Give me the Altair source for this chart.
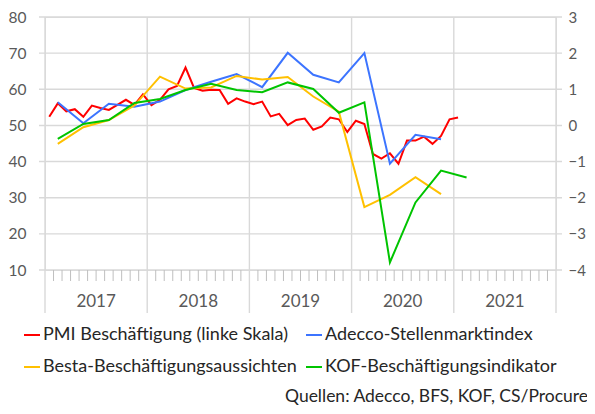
import altair as alt
import pandas as pd

# ---------------- data ----------------
series_names = ["PMI Beschäftigung (linke Skala)", "Adecco-Stellenmarktindex",
                "Besta-Beschäftigungsaussichten", "KOF-Beschäftigungsindikator"]
series_colors = ["#ff0000", "#3c74ff", "#ffc000", "#00c400"]

# monthly PMI, Jan 2017 .. Jan 2021 (left scale)
pmi = [52.4, 56.1, 53.9, 54.5, 52.4, 55.5, 54.8, 54.3, 55.7, 57.1, 55.7, 58.6,
       55.6, 57.1, 60.0, 60.9, 66.0, 60.4, 59.6, 59.9, 59.8, 56.0, 57.5, 56.6,
       55.9, 56.6, 52.5, 53.2, 50.1, 51.5, 51.9, 48.8, 49.7, 52.2, 51.7, 48.2,
       51.3, 50.4, 42.1, 40.8, 42.3, 39.4, 45.8, 45.8, 46.9, 44.9, 47.1, 51.7,
       52.2]

# quarterly indicators, Q1 2017 onwards (right scale)
adecco = [0.64, 0.06, 0.60, 0.52, 0.66, 0.98, 1.21, 1.42, 1.06, 2.01, 1.40, 1.19,
          2.00, -1.06, -0.26, -0.38]
besta = [-0.51, -0.05, 0.15, 0.55, 1.35, 1.02, 1.05, 1.37, 1.27, 1.34, 0.80, 0.38,
         -2.26, -1.92, -1.43, -1.90]
kof = [-0.37, 0.04, 0.15, 0.62, 0.73, 0.98, 1.15, 0.98, 0.92, 1.19, 1.01, 0.35,
       0.64, -3.79, -2.13, -1.25, -1.44]

years = ["2017", "2018", "2019", "2020", "2021"]
left_ticks = [10, 20, 30, 40, 50, 60, 70, 80]
right_ticks = [-4, -3, -2, -1, 0, 1, 2, 3]
source_text = "Quellen: Adecco, BFS, KOF, CS/Procure"

# legend is filled column by column: PMI, Besta | Adecco, KOF
legend_order = [0, 2, 1, 3]

# ---------------- tables ----------------
pmi_df = pd.DataFrame({"m": [i + 0.5 for i in range(len(pmi))], "v": pmi,
                       "series": series_names[0]})
rows = []
for name, vals in [(series_names[1], adecco), (series_names[2], besta), (series_names[3], kof)]:
    for q, v in enumerate(vals):
        rows.append({"m": 3 * q + 1.5, "v": v, "series": name})
q_df = pd.DataFrame(rows)
grid_df = pd.DataFrame({"v": left_ticks})
year_df = pd.DataFrame({"m": [12 * k for k in range(len(years) + 1)]})
minor_df = pd.DataFrame({"m": [m for m in range(1, 60) if m % 12 != 0]})
label_df = pd.DataFrame({"m": [12 * k + 6 for k in range(len(years))], "t": years})
src_df = pd.DataFrame({"t": [source_text]})

W, H = 511, 253
FONT = "Lato"
xs = alt.Scale(domain=[0, 60], nice=False, zero=False)
X = lambda: alt.X("m:Q", scale=xs, axis=None)
yl_scale = alt.Scale(domain=[10, 80], nice=False, zero=False)
yr_scale = alt.Scale(domain=[-4, 3], nice=False, zero=False)
axis_left = alt.Axis(orient="left", values=left_ticks, grid=False, ticks=False, tickSize=0,
                     domain=False, labelPadding=19, labelFontSize=15.5, labelFont=FONT,
                     labelColor="#595959", title=None)
axis_right = alt.Axis(orient="right", values=right_ticks, grid=False, ticks=False, tickSize=0,
                      domain=False, labelPadding=12, labelFontSize=15, labelFont=FONT,
                      labelColor="#595959", title=None, labelAlign="left")
color_scale = alt.Scale(domain=[series_names[i] for i in legend_order],
                        range=[series_colors[i] for i in legend_order])
legend = alt.Legend(orient="none", legendX=-22, legendY=309, columns=2, title=None,
                    symbolType="stroke", symbolSize=256, symbolStrokeWidth=2,
                    labelFontSize=18, labelFont=FONT, labelColor="#262626",
                    labelOffset=2, columnPadding=5, rowPadding=14, padding=0,
                    labelLimit=500)

hgrid = alt.Chart(grid_df).mark_rule(color="#d9d9d9", strokeWidth=1.4).encode(
    x=alt.value(-6), x2=alt.value(W + 6),
    y=alt.Y("v:Q", scale=yl_scale, axis=axis_left))
vgrid = alt.Chart(year_df).mark_rule(color="#d9d9d9", strokeWidth=1.4).encode(
    x=X(), y=alt.value(0), y2=alt.value(296))
minor = alt.Chart(minor_df).mark_rule(color="#bfbfbf", strokeWidth=1).encode(
    x=X(), y=alt.value(H), y2=alt.value(H + 11))
ylabels = alt.Chart(label_df).mark_text(fontSize=17, font=FONT, color="#595959").encode(
    x=X(), y=alt.value(285), text="t:N")
pmi_line = alt.Chart(pmi_df).mark_line(strokeWidth=2).encode(
    x=X(), y=alt.Y("v:Q", scale=yl_scale, axis=axis_left),
    color=alt.Color("series:N", scale=color_scale, legend=legend))
src = alt.Chart(src_df).mark_text(fontSize=17.5, font=FONT, color="#262626", align="left").encode(
    x=alt.value(240), y=alt.value(380), text="t:N")

left = alt.layer(hgrid, vgrid, minor, ylabels, pmi_line, src)
right = alt.Chart(q_df).mark_line(strokeWidth=2).encode(
    x=X(), y=alt.Y("v:Q", scale=yr_scale, axis=axis_right),
    color=alt.Color("series:N", scale=color_scale, legend=legend),
    order=alt.Order("m:Q"))

chart = alt.layer(left, right).resolve_scale(y="independent").properties(
    width=W, height=H,
    autosize=alt.AutoSizeParams(type="none"),
    padding={"left": 37, "top": 9, "right": 31, "bottom": 136},
).configure_view(stroke=None).configure(background="white")

chart.save("out.html", embed_options={"renderer": "svg", "actions": False})
